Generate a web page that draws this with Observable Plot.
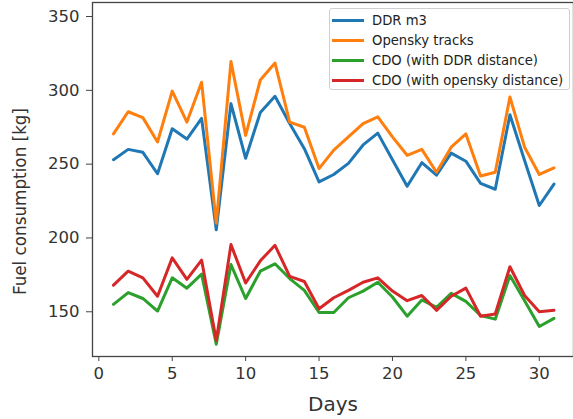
<!DOCTYPE html>
<html>
<head>
<meta charset="utf-8">
<script src="https://cdn.jsdelivr.net/npm/d3@7"></script>
<script src="https://cdn.jsdelivr.net/npm/@observablehq/plot@0.6"></script>
<style>
  html, body { margin: 0; padding: 0; background: #fff; }
  #wrap { position: relative; width: 573px; height: 419px; overflow: hidden; }
  #legend { position: absolute; left: 329px; top: 8px; width: 241px; height: 82px;
    border: 1px solid #d0d0d0; border-radius: 3px; background: rgba(255,255,255,0.85);
    font-family: "DejaVu Sans", sans-serif; font-size: 13.2px; color: #222; box-sizing: border-box; }
  .item { position: absolute; left: 0; height: 20px; display: flex; align-items: center; white-space: nowrap; }
  .item span.sw { display: inline-block; width: 32px; height: 3px; margin-left: 2px; margin-right: 8px; }
</style>
</head>
<body>
<div id="wrap"><div id="legend"></div></div>
<script>
const days = d3.range(1, 32);
const seriesNames = ["DDR m3", "Opensky tracks", "CDO (with DDR distance)", "CDO (with opensky distance)"];
const seriesColors = ["#1f77b4", "#ff7f0e", "#2ca02c", "#d62728"];
const ddrM3 = [253, 260, 258, 243.5, 274, 267, 281, 205.5, 291, 254, 285, 296, 277.5, 260.5, 238,
  243, 250.5, 263, 271, 253, 235, 251, 242.5, 257.5, 252, 237, 233, 283.5, 252.5, 222, 236.5];
const openskyTracks = [270.5, 285.5, 281.5, 265, 299.5, 278.5, 305.5, 210, 319.5, 269.5, 307, 318.5, 278.5, 275, 247,
  259.5, 268.5, 277.5, 282, 268.5, 256, 260, 244.5, 261.5, 270.5, 242, 244.5, 295.5, 261.5, 243, 247.5];
const cdoDdr = [155, 163, 159, 150.5, 173, 166, 175.5, 128, 182, 159, 177.5, 182.5, 172.5, 164.5, 149.5,
  149.5, 159.5, 164, 170, 160, 147, 158, 153, 162.5, 157, 147.5, 145, 174.5, 157.5, 140, 145.5];
const cdoOpensky = [168, 177.5, 173, 160.5, 186.5, 172, 185, 130.5, 195.5, 169.5, 184.5, 195, 174, 170.5, 152,
  159.5, 164.5, 170, 173, 164, 157.5, 161, 151, 160.5, 166, 147, 148.5, 180.5, 161, 150, 151];
const xTicks = [0, 5, 10, 15, 20, 25, 30];
const yTicks = [150, 200, 250, 300, 350];
const xLabel = "Days";
const yLabel = "Fuel consumption [kg]";

const allSeries = [ddrM3, openskyTracks, cdoDdr, cdoOpensky];
const rows = [];
allSeries.forEach((vals, i) => vals.forEach((v, j) => rows.push({day: days[j], value: v, series: seriesNames[i]})));

const chart = Plot.plot({
  width: 573,
  height: 419,
  marginLeft: 92,
  marginRight: 0,
  marginTop: 2,
  marginBottom: 63,
  style: {fontFamily: "DejaVu Sans, sans-serif", fontSize: "16.5px", color: "#333", background: "#fff"},
  x: {domain: [-0.43, 32.33]},
  y: {domain: [119.7, 359.5]},
  color: {domain: seriesNames, range: seriesColors},
  marks: [
    Plot.axisX({ticks: xTicks, tickSize: 5, tickPadding: 6, fontSize: 16.5, label: null, stroke: "#444"}),
    Plot.axisY({ticks: yTicks, tickSize: 6, tickPadding: 7, fontSize: 16.5, label: null, stroke: "#444"}),
    Plot.axisX({ticks: [], label: xLabel, labelAnchor: "center", labelArrow: "none", labelOffset: 54, fontSize: 20}),
    Plot.text([yLabel], {text: d => d, frameAnchor: "left", rotate: -90, dx: -72, dy: 22,
      fontSize: 16.8, textAnchor: "middle", lineAnchor: "middle", fill: "#333"}),
    Plot.line(rows, {x: "day", y: "value", z: "series", stroke: "series", strokeWidth: 3, strokeLinejoin: "round"}),
    Plot.frame({stroke: "#444", strokeWidth: 1.3})
  ]
});
document.getElementById("wrap").prepend(chart);

const legend = document.getElementById("legend");
seriesNames.forEach((name, i) => {
  const it = document.createElement("div");
  it.className = "item";
  it.style.top = (1 + i * 20) + "px";
  it.innerHTML = `<span class="sw" style="background:${seriesColors[i]}"></span><span>${name}</span>`;
  legend.appendChild(it);
});
</script>
</body>
</html>
